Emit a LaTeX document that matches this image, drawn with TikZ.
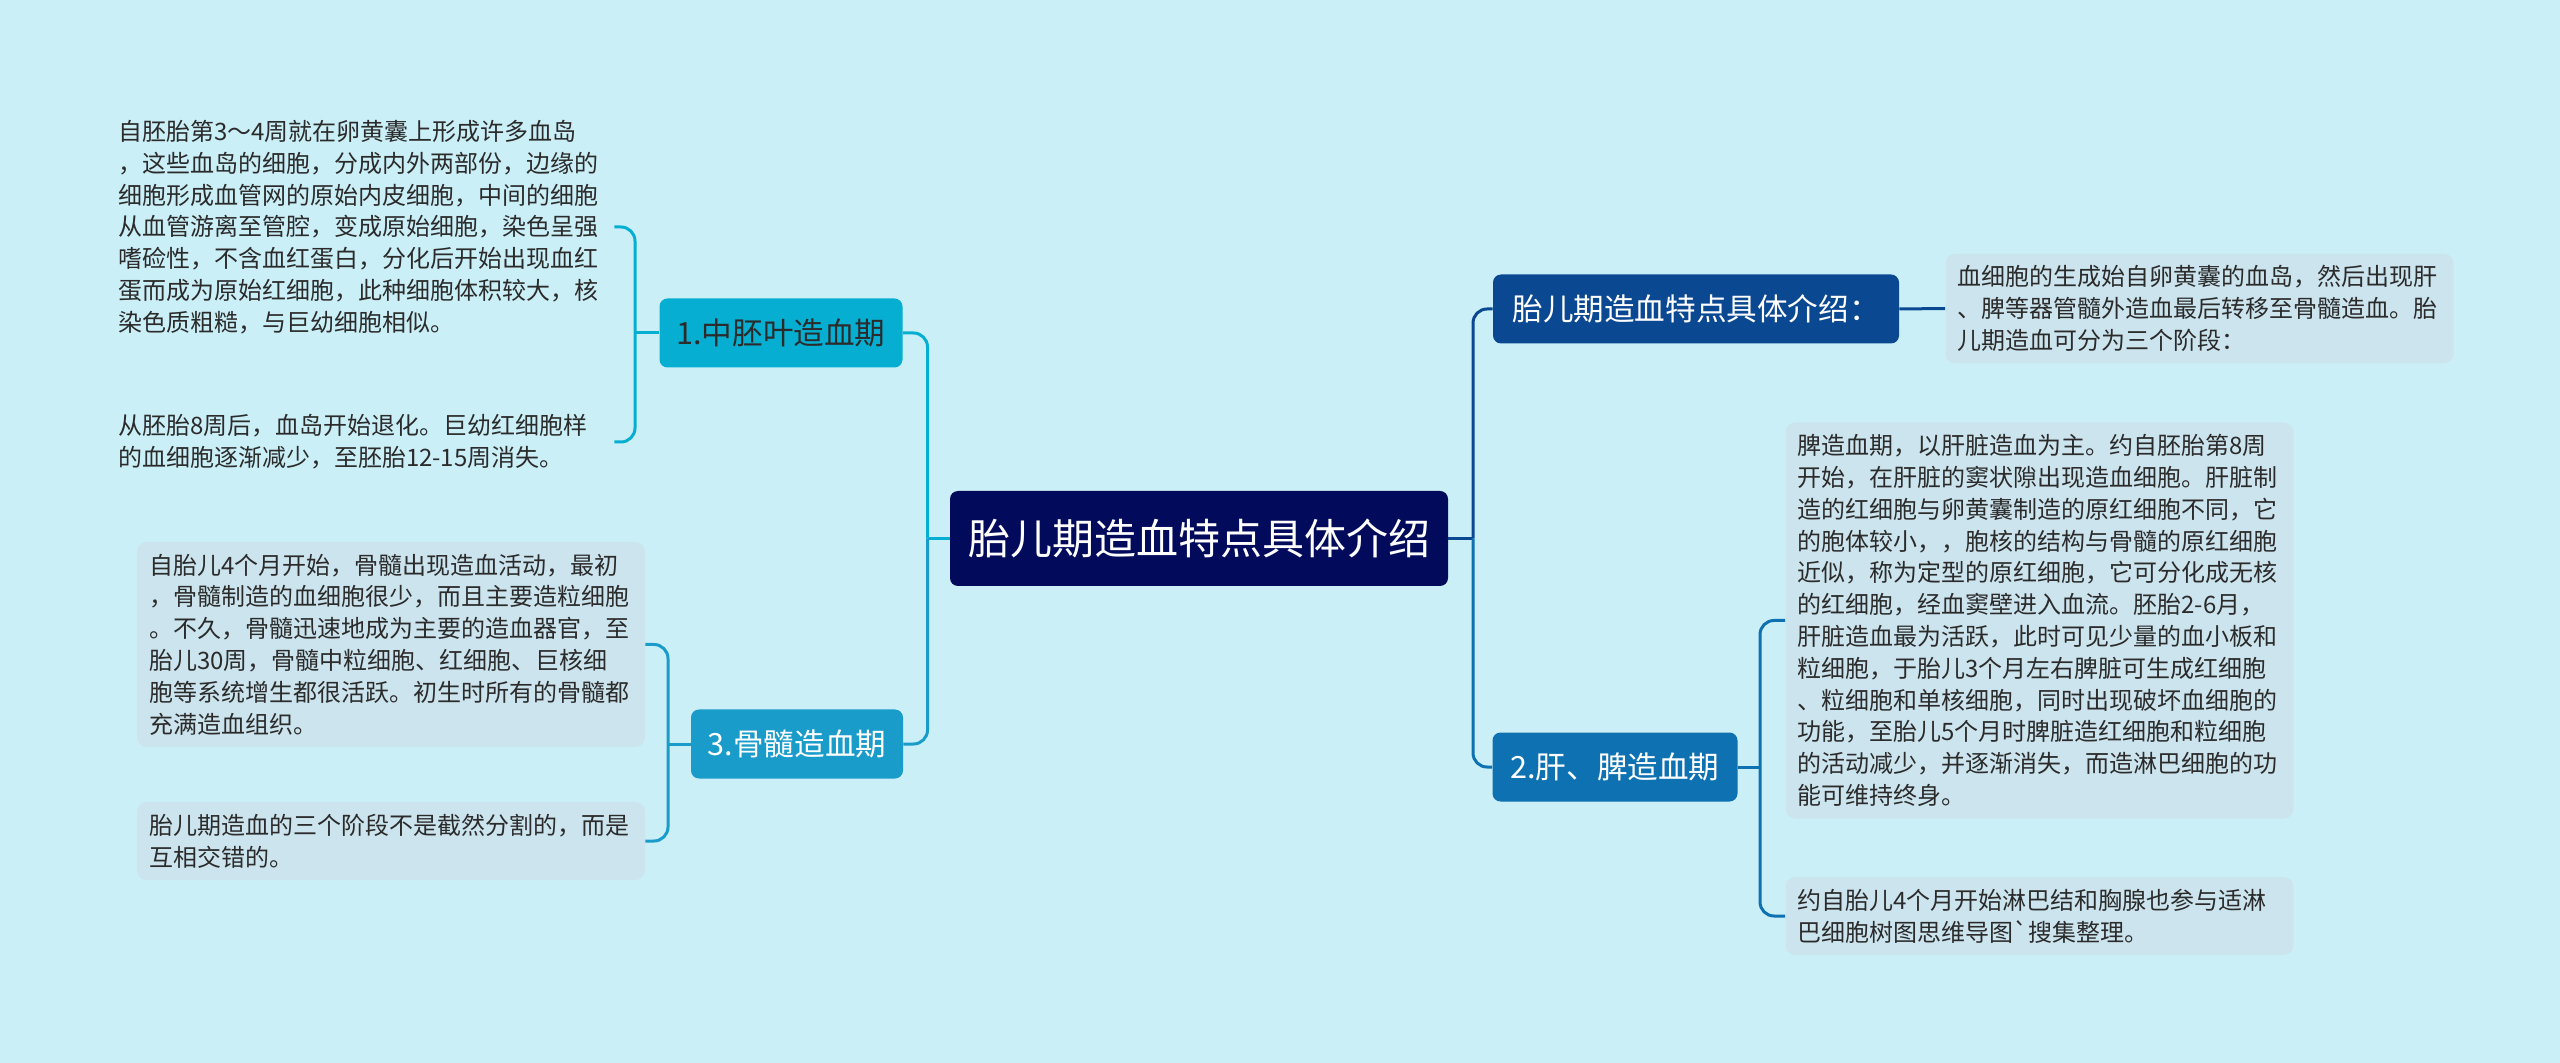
\documentclass[tikz,border=0pt]{standalone}
\usepackage{fontspec}
\setmainfont{Noto Sans CJK SC}
\usetikzlibrary{positioning}
\definecolor{bgc}{HTML}{CBEFF7}
\definecolor{rootc}{HTML}{020A5C}
\definecolor{mesoc}{HTML}{06AFD2}
\definecolor{marrowc}{HTML}{1A9CCB}
\definecolor{introc}{HTML}{0B4892}
\definecolor{liverc}{HTML}{0E71B1}
\definecolor{leafc}{HTML}{CCE4EE}
\definecolor{inkc}{HTML}{2B2B2B}

\begin{document}
\begin{tikzpicture}[x=0.5pt, y=-0.5pt]
        \tikzstyle{every node}=[inner sep=0pt]
        \tikzstyle{root}=[rounded corners=4pt, fill=rootc, text=white, font=\fontsize{21}{25}\selectfont, minimum width=249pt, minimum height=47.5pt]
        \tikzstyle{topic}=[rounded corners=4pt, text=white, font=\fontsize{15.3}{18}\selectfont, minimum height=34.5pt]
        \tikzstyle{leaf}=[rounded corners=5pt, fill=leafc, text=inkc, align=left, text width=242pt, inner xsep=6pt, inner ysep=6pt, font=\fontsize{12}{15.9}\selectfont]
        \tikzstyle{link}=[line width=1.5pt, rounded corners=7pt]

        \useasboundingbox (0,0) rectangle (2560,1063);
        \fill[bgc] (0,0) rectangle (2560,1063);

        \node[root] (0) at (1199,538.5) {胎儿期造血特点具体介绍};
        \node[topic, fill=mesoc, text=inkc, minimum width=121.5pt] (meso) at (781,333) {1.中胚叶造血期};
        \node[topic, fill=marrowc, minimum width=106pt] (marrow) at (797,744) {3.骨髓造血期};
        \node[topic, fill=introc, minimum width=203pt] (intro) at (1696,309) {胎儿期造血特点具体介绍：};
        \node[topic, fill=liverc, minimum width=122.5pt] (liver) at (1615,767) {2.肝、脾造血期};

        \node[leaf, fill=none] (island) at (360,227) {自胚胎第3～4周就在卵黄囊上形成许多血岛\\，这些血岛的细胞，分成内外两部份，边缘的\\细胞形成血管网的原始内皮细胞，中间的细胞\\从血管游离至管腔，变成原始细胞，染色呈强\\嗜硷性，不含血红蛋白，分化后开始出现血红\\蛋而成为原始红细胞，此种细胞体积较大，核\\染色质粗糙，与巨幼细胞相似。};
        \node[leaf, fill=none] (regress) at (360,442) {从胚胎8周后，血岛开始退化。巨幼红细胞样\\的血细胞逐渐减少，至胚胎12-15周消失。};
        \node[leaf] (marrowa) at (391,644.5) {自胎儿4个月开始，骨髓出现造血活动，最初\\，骨髓制造的血细胞很少，而且主要造粒细胞\\。不久，骨髓迅速地成为主要的造血器官，至\\胎儿30周，骨髓中粒细胞、红细胞、巨核细\\胞等系统增生都很活跃。初生时所有的骨髓都\\充满造血组织。};
        \node[leaf] (marrowb) at (391,841) {胎儿期造血的三个阶段不是截然分割的，而是\\互相交错的。};
        \node[leaf] (introa) at (2199.5,308.5) {血细胞的生成始自卵黄囊的血岛，然后出现肝\\、脾等器管髓外造血最后转移至骨髓造血。胎\\儿期造血可分为三个阶段：};
        \node[leaf] (livera) at (2039.5,620.5) {脾造血期，以肝脏造血为主。约自胚胎第8周\\开始，在肝脏的窦状隙出现造血细胞。肝脏制\\造的红细胞与卵黄囊制造的原红细胞不同，它\\的胞体较小，，胞核的结构与骨髓的原红细胞\\近似，称为定型的原红细胞，它可分化成无核\\的红细胞，经血窦壁进入血流。胚胎2-6月，\\肝脏造血最为活跃，此时可见少量的血小板和\\粒细胞，于胎儿3个月左右脾脏可生成红细胞\\、粒细胞和单核细胞，同时出现破坏血细胞的\\功能，至胎儿5个月时脾脏造红细胞和粒细胞\\的活动减少，并逐渐消失，而造淋巴细胞的功\\能可维持终身。};
        \node[leaf] (liverb) at (2039.5,916) {约自胎儿4个月开始淋巴结和胸腺也参与适淋\\巴细胞树图思维导图\textasciigrave 搜集整理。};

        \coordinate (bl) at (927.5,538.5);
        \coordinate (br) at (1473,538.5);
        \coordinate (b1) at (635,333);
        \coordinate (b3) at (668,744);
        \coordinate (b2) at (1760,767);

        \draw[link, mesoc] (0.west) -- (bl);
        \draw[link, mesoc] (meso.east) -| (bl);
        \draw[link, marrowc] (bl) |- (marrow.east);
        \draw[link, introc] (0.east) -- (br);
        \draw[link, introc] (intro.west) -| (br);
        \draw[link, liverc] (br) |- (liver.west);

        \draw[link, mesoc] (island.east) -| (b1) |- (regress.east);
        \draw[link, mesoc] (b1) -- (meso.west);
        \draw[link, marrowc] (marrowa.east) -| (b3) |- (marrowb.east);
        \draw[link, marrowc] (b3) -- (marrow.west);
        \draw[link, introc] (intro.east) -- (introa.west);
        \draw[link, liverc] (livera.west) -| (b2) |- (liverb.west);
        \draw[link, liverc] (b2) -- (liver.east);
\end{tikzpicture}
\end{document}
